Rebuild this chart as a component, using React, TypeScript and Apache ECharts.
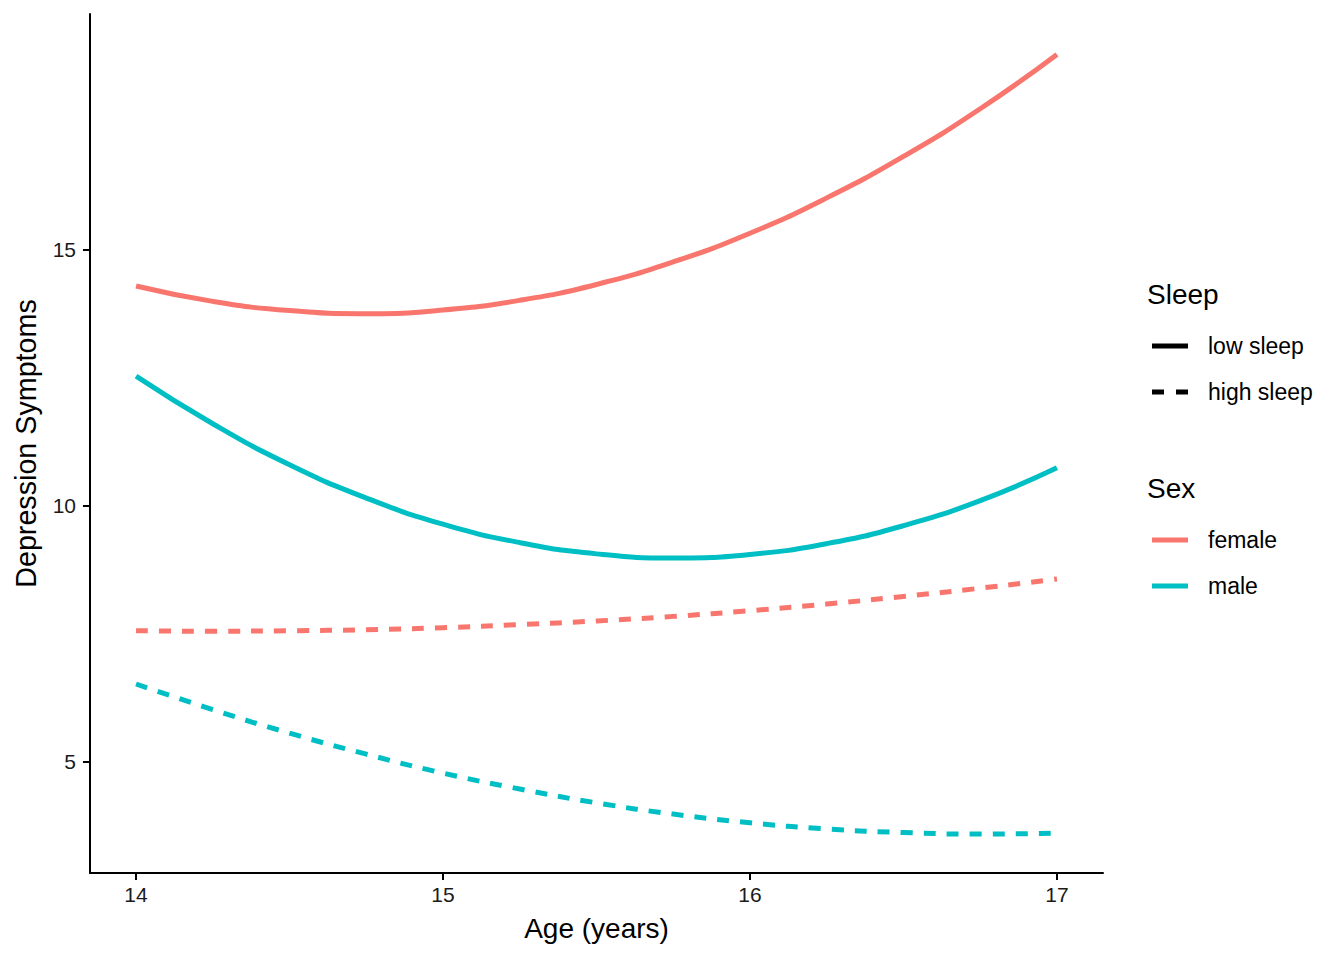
import React, { useEffect, useRef } from "react";
import * as echarts from "echarts";

const ages = [14, 14.25, 14.5, 14.75, 15, 15.25, 15.5, 15.75, 16, 16.25, 16.5, 16.75, 17];

const femaleLow = [14.29, 13.99, 13.81, 13.75, 13.82, 14.01, 14.32, 14.76, 15.32, 16.01, 16.82, 17.75, 18.81];
const maleLow = [12.53, 11.6, 10.8, 10.15, 9.64, 9.28, 9.06, 8.98, 9.05, 9.26, 9.61, 10.1, 10.74];
const femaleHigh = [7.56, 7.55, 7.56, 7.58, 7.62, 7.68, 7.75, 7.84, 7.95, 8.08, 8.23, 8.39, 8.57];
const maleHigh = [6.52, 6.02, 5.56, 5.15, 4.78, 4.47, 4.2, 3.98, 3.81, 3.69, 3.62, 3.59, 3.61];

const xTicks = [14, 15, 16, 17];
const yTicks = [5, 10, 15];

const FEMALE = "#F8766D";
const MALE = "#00BFC4";
const FONT = "Liberation Sans, Arial, sans-serif";
const DASH = [12, 11];

const pairs = (ys: number[]) => ages.map((a, i) => [a, ys[i]]);

const App: React.FC = () => {
  const chartRef = useRef<HTMLDivElement>(null);

  useEffect(() => {
    const chart = echarts.init(chartRef.current!, null, { renderer: "svg" });

    const mkLine = (name: string, ys: number[], color: string, dashed: boolean) => ({
      name,
      type: "line",
      data: pairs(ys),
      smooth: true,
      showSymbol: false,
      lineStyle: { color, width: 5, type: dashed ? DASH : "solid" },
    });

    const legendText = (text: string, x: number, y: number, size: number) => ({
      type: "text",
      x,
      y,
      style: { text, fill: "#000", font: `${size}px ${FONT}`, textVerticalAlign: "middle" },
    });
    const legendKey = (y: number, color: string, dashed: boolean) => ({
      type: "line",
      shape: { x1: 1152, y1: y, x2: 1188, y2: y },
      style: { stroke: color, lineWidth: 5, lineDash: dashed ? [12, 12] : null },
    });

    chart.setOption({
      animation: false,
      textStyle: { fontFamily: FONT },
      grid: { left: 90, right: 241, top: 14, bottom: 87, outerBoundsMode: "none" },
      xAxis: {
        type: "value",
        min: 13.85,
        max: 17.15,
        name: "Age (years)",
        nameLocation: "middle",
        nameGap: 41,
        nameTextStyle: { fontSize: 28, color: "#000", fontFamily: FONT },
        axisLine: { lineStyle: { color: "#000", width: 2 } },
        axisTick: { length: 7, lineStyle: { color: "#000", width: 2 }, customValues: xTicks },
        axisLabel: { fontSize: 21, color: "#1a1a1a", margin: 11, customValues: xTicks },
        splitLine: { show: false },
      },
      yAxis: {
        type: "value",
        min: 2.83,
        max: 19.6,
        name: "Depression Symptoms",
        nameLocation: "middle",
        nameGap: 50,
        nameTextStyle: { fontSize: 28.7, color: "#000", fontFamily: FONT },
        axisLine: { show: true, lineStyle: { color: "#000", width: 2 } },
        axisTick: { show: true, length: 7, lineStyle: { color: "#000", width: 2 }, customValues: yTicks },
        axisLabel: { fontSize: 21, color: "#1a1a1a", margin: 14, customValues: yTicks },
        splitLine: { show: false },
      },
      series: [
        mkLine("female low sleep", femaleLow, FEMALE, false),
        mkLine("male low sleep", maleLow, MALE, false),
        mkLine("female high sleep", femaleHigh, FEMALE, true),
        mkLine("male high sleep", maleHigh, MALE, true),
      ],
      graphic: [
        legendText("Sleep", 1147, 294, 28),
        legendKey(346, "#000", false),
        legendText("low sleep", 1208, 346, 23),
        legendKey(392, "#000", true),
        legendText("high sleep", 1208, 392, 23),
        legendText("Sex", 1147, 488, 28),
        legendKey(540, FEMALE, false),
        legendText("female", 1208, 540, 23),
        legendKey(586, MALE, false),
        legendText("male", 1208, 586, 23),
      ],
    });

    return () => chart.dispose();
  }, []);

  return (
    <div
      ref={chartRef}
      style={{ position: "absolute", left: 0, top: 0, width: 1344, height: 960, background: "#fff" }}
    />
  );
};

export default App;
